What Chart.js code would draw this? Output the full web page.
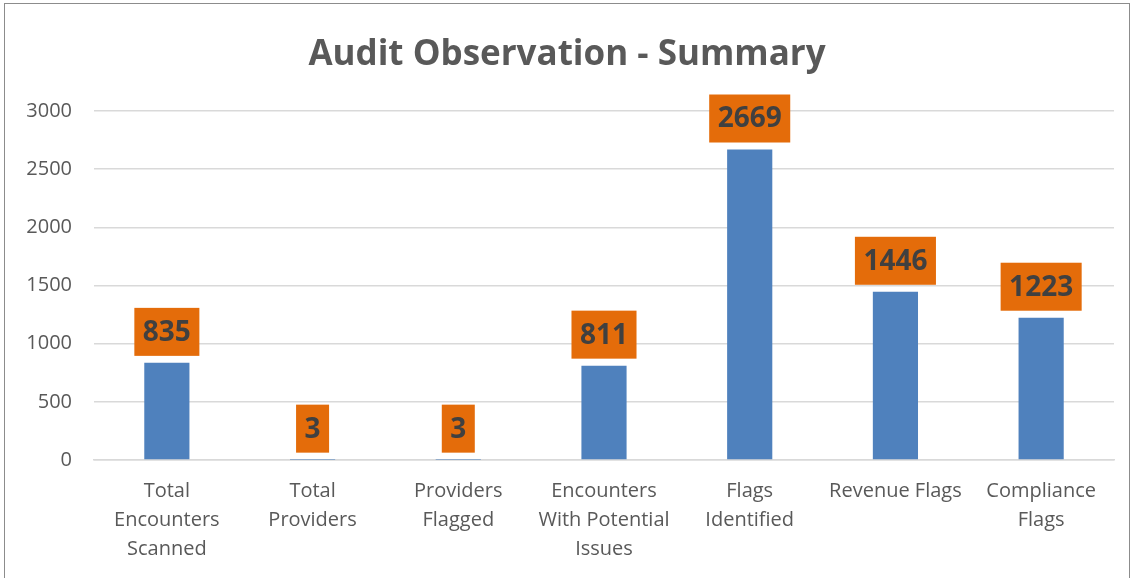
<!DOCTYPE html>
<html>
<head>
<meta charset="utf-8">
<script src="https://cdn.jsdelivr.net/npm/chart.js@4"></script>
<style>
  body { margin: 0; background: #fff; }
  #wrap { position: absolute; left: 0; top: 0; width: 1134px; height: 578px; }
  #frame { position: absolute; left: 4px; top: 3px; width: 1126px; height: 580px; border: 1px solid #8c8c8c; box-sizing: border-box; pointer-events: none; }
</style>
</head>
<body>
<div id="wrap">
  <canvas id="auditChart" width="1134" height="578"></canvas>
  <div id="frame"></div>
</div>
<script>
const categories = [
    ['Total', 'Encounters', 'Scanned'],
    ['Total', 'Providers'],
    ['Providers', 'Flagged'],
    ['Encounters', 'With Potential', 'Issues'],
    ['Flags', 'Identified'],
    ['Revenue Flags'],
    ['Compliance', 'Flags']
];
const counts = [835, 3, 3, 811, 2669, 1446, 1223];
const yTicks = [0, 500, 1000, 1500, 2000, 2500, 3000];

// orange value boxes above each bar
const valueBoxes = {
    id: 'valueBoxes',
    afterDatasetsDraw(chart) {
        const ctx = chart.ctx;
        const meta = chart.getDatasetMeta(0);
        ctx.save();
        ctx.font = 'bold 28px "Open Sans"';
        ctx.textAlign = 'center';
        ctx.textBaseline = 'middle';
        meta.data.forEach((bar, i) => {
            const text = String(counts[i]);
            const w = ctx.measureText(text).width + 17;
            const h = 48;
            const bottom = bar.y - 7;
            ctx.fillStyle = '#E46C0A';
            ctx.fillRect(bar.x - w / 2, bottom - h, w, h);
            ctx.fillStyle = '#404040';
            ctx.fillText(text, bar.x, bottom - h / 2 + 1);
        });
        ctx.restore();
    }
};

const ctx = document.getElementById('auditChart').getContext('2d');
new Chart(ctx, {
    type: 'bar',
    data: {
        labels: categories,
        datasets: [{
            label: 'Count',
            data: counts,
            backgroundColor: '#4F81BD',
            barPercentage: 0.31,
            categoryPercentage: 1
        }]
    },
    options: {
        responsive: false,
        animation: false,
        layout: { padding: { top: 3, left: 20, right: 20, bottom: 0 } },
        plugins: {
            legend: { display: false },
            tooltip: { enabled: false },
            title: {
                display: true,
                text: 'Audit Observation - Summary',
                color: '#595959',
                font: { family: 'Open Sans', size: 35, weight: 'bold' },
                padding: { top: 31, bottom: 35 }
            }
        },
        scales: {
            y: {
                min: 0,
                max: 3000,
                afterBuildTicks: axis => { axis.ticks = yTicks.map(v => ({ value: v })); },
                afterFit: axis => { axis.width = 74; },
                border: { display: false },
                grid: { color: '#d9d9d9', lineWidth: 1.5, drawTicks: false },
                ticks: {
                    color: '#595959',
                    padding: 22,
                    callback: v => String(v),
                    font: { family: 'Open Sans', size: 20 }
                }
            },
            x: {
                afterFit: axis => { axis.height = 118; },
                border: { color: '#d9d9d9', width: 1.5 },
                grid: { display: false },
                ticks: {
                    color: '#595959',
                    padding: 9,
                    maxRotation: 0,
                    autoSkip: false,
                    font: { family: 'Open Sans', size: 20, lineHeight: 1.45 }
                }
            }
        }
    },
    plugins: [valueBoxes]
});
</script>
</body>
</html>
